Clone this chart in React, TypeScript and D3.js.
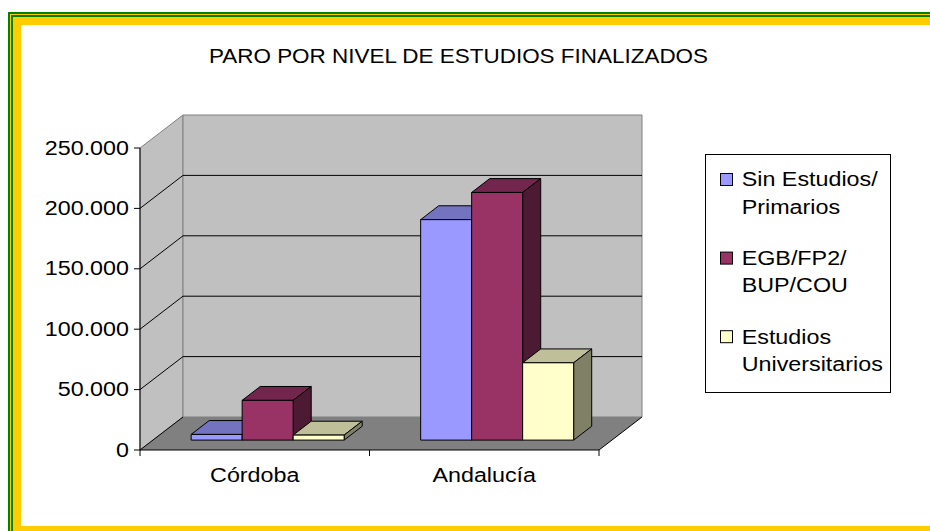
import * as d3 from 'd3';
import { useMemo } from 'react';

const categories = ['Córdoba', 'Andalucía'];
const seriesNames = ['Sin Estudios/ Primarios', 'EGB/FP2/ BUP/COU', 'Estudios Universitarios'];
const legendLines = [
  ['Sin Estudios/', 'Primarios'],
  ['EGB/FP2/', 'BUP/COU'],
  ['Estudios', 'Universitarios'],
];
const sinEstudios = [4700, 182500];
const egbFp2 = [32900, 205000];
const universitarios = [4150, 64000];
const yTicks = [0, 50000, 100000, 150000, 200000, 250000];
const colors = ['#9999FF', '#993366', '#FFFFCC'];

const W = 930;
const H = 531;
const font = "'Liberation Sans', Arial, sans-serif";

// shade a face colour like the old office 3d charts
function shade(c: string, k: number) {
  const rgb = d3.rgb(c);
  return d3.rgb(rgb.r * k, rgb.g * k, rgb.b * k).formatHex();
}

type STextProps = {
  x: number;
  y: number;
  sx?: number;
  anchor?: 'start' | 'middle' | 'end';
  size?: number;
  children: string;
};

function SText({ x, y, sx = 1.11, anchor = 'start', size = 21, children }: STextProps) {
  return (
    <g transform={`translate(${x},${y}) scale(${sx},1)`}>
      <text textAnchor={anchor} fontSize={size} fontFamily={font} fill='#000'>
        {children}
      </text>
    </g>
  );
}

export default function App() {
  const left = 140;
  const right = 599;
  const dx = 43;
  const dy = -33;
  const f0 = 0.3; // bar front, fraction of floor depth
  const f1 = 0.72; // bar back

  const yScale = useMemo(
    () => d3.scaleLinear().domain([0, 250000]).range([450, 148]),
    []
  );
  const xBand = useMemo(
    () => d3.scaleBand().domain(categories).range([left, right]),
    []
  );
  const sBand = useMemo(
    () =>
      d3
        .scaleBand()
        .domain(seriesNames)
        .range([0, xBand.bandwidth()])
        .paddingOuter(0.75),
    [xBand]
  );

  const fmt = d3.formatLocale({
    decimal: ',',
    thousands: '.',
    grouping: [3],
    currency: ['', ''],
  }).format(',d');

  const P = (x: number, y: number, f: number) => [x + f * dx, y + f * dy];
  const poly = (pts: number[][]) => pts.map((p) => p.join(',')).join(' ');

  const y0 = yScale(0);
  const yT = yScale(250000);
  const series = [sinEstudios, egbFp2, universitarios];

  const bars: JSX.Element[] = [];
  categories.forEach((cat, ci) => {
    series.forEach((vals, si) => {
      const xl = (xBand(cat) ?? 0) + (sBand(seriesNames[si]) ?? 0);
      const w = sBand.bandwidth();
      const yv = yScale(vals[ci]);
      const c = colors[si];
      const a = P(xl, yv, f0);
      bars.push(
        <g key={`${ci}-${si}`} stroke='#000' strokeWidth={1} strokeLinejoin='round'>
          <polygon
            points={poly([P(xl, yv, f0), P(xl + w, yv, f0), P(xl + w, yv, f1), P(xl, yv, f1)])}
            fill={shade(c, 0.75)}
          />
          <polygon
            points={poly([P(xl + w, yv, f0), P(xl + w, yv, f1), P(xl + w, y0, f1), P(xl + w, y0, f0)])}
            fill={shade(c, 0.5)}
          />
          <rect x={a[0]} y={a[1]} width={w} height={y0 - yv} fill={c} />
        </g>
      );
    });
  });

  return (
    <div style={{ position: 'fixed', left: 0, top: 0, width: W, height: H, overflow: 'hidden' }}>
      <svg width={W} height={H} viewBox={`0 0 ${W} ${H}`} style={{ display: 'block' }}>
        <rect x={0} y={0} width={W} height={H} fill='#fff' />
        {/* frame, open on the right: the chart goes on past the picture */}
        <rect x={8} y={12} width={W + 40} height={H} fill='#008000' />
        <rect x={10} y={14} width={W + 40} height={H} fill='#FFCC00' />
        <rect x={11} y={15} width={W + 40} height={H} fill='#008000' />
        <rect x={13} y={17} width={W + 40} height={H} fill='#FFCC00' />
        <rect x={21} y={25} width={W + 60} height={526 - 25} fill='#fff' />

        <SText x={458.5} y={62.7} anchor='middle' sx={1.07}>
          PARO POR NIVEL DE ESTUDIOS FINALIZADOS
        </SText>

        {/* walls */}
        <polygon
          points={poly([[left, yT], P(left, yT, 1), P(left, y0, 1), [left, y0]])}
          fill='#C0C0C0'
          stroke='#808080'
        />
        <polygon
          points={poly([P(left, yT, 1), P(right, yT, 1), P(right, y0, 1), P(left, y0, 1)])}
          fill='#C0C0C0'
          stroke='#808080'
        />
        {yTicks
          .filter((t) => t > 0 && t < 250000)
          .map((t) => (
            <polyline
              key={t}
              points={poly([[left, yScale(t)], P(left, yScale(t), 1), P(right, yScale(t), 1)])}
              fill='none'
              stroke='#000'
            />
          ))}
        {/* floor */}
        <polygon
          points={poly([[left, y0], P(left, y0, 1), P(right, y0, 1), [right, y0]])}
          fill='#808080'
        />
        <polyline
          points={poly([P(left, y0, 1), [left, y0], [right, y0], P(right, y0, 1)])}
          fill='none'
          stroke='#000'
        />

        {bars}

        {/* value axis */}
        <line x1={left} x2={left} y1={yT} y2={y0} stroke='#000' />
        {yTicks.map((t) => (
          <g key={t}>
            <line x1={left - 6} x2={left} y1={yScale(t)} y2={yScale(t)} stroke='#000' />
            <SText x={129} y={yScale(t) + 6.5} anchor='end'>
              {fmt(t)}
            </SText>
          </g>
        ))}

        {/* category axis */}
        {[left, (left + right) / 2, right].map((x) => (
          <line key={x} x1={x} x2={x} y1={y0} y2={y0 + 6} stroke='#000' />
        ))}
        {categories.map((c) => (
          <SText key={c} x={(xBand(c) ?? 0) + xBand.bandwidth() / 2} y={482} anchor='middle'>
            {c}
          </SText>
        ))}

        {/* legend */}
        <rect x={705.5} y={154.5} width={185} height={238} fill='#fff' stroke='#000' />
        {legendLines.map((lines, i) => {
          const top = 173 + i * 78.6;
          return (
            <g key={i}>
              <rect x={720.5} y={top + 0.5} width={12} height={12} fill={colors[i]} stroke='#000' />
              {lines.map((l, li) => (
                <SText key={l} x={741.7} y={top + 13.3 + li * 27.5}>
                  {l}
                </SText>
              ))}
            </g>
          );
        })}
      </svg>
    </div>
  );
}
